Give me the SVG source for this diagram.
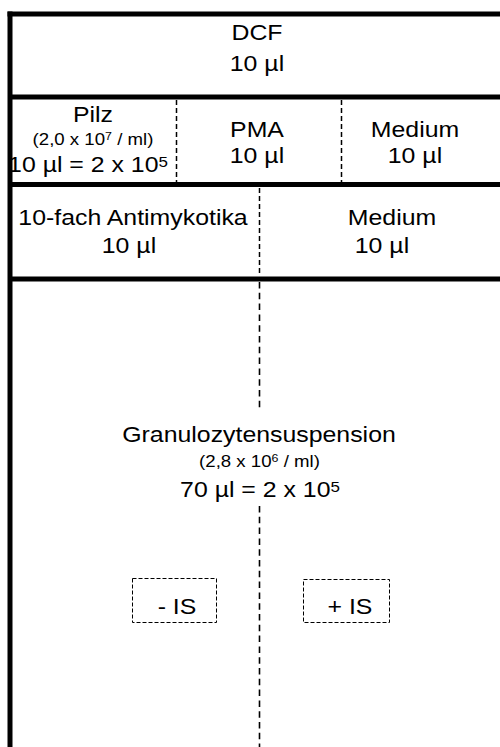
<svg xmlns="http://www.w3.org/2000/svg" width="500" height="747" viewBox="0 0 500 747">
<style>
.frame{stroke:#000;stroke-width:5;fill:none}
.dash{stroke:#000;stroke-width:1.5;stroke-dasharray:5 3;fill:none}
.dash2{stroke:#000;stroke-width:1.6;stroke-dasharray:6.5 4.3;fill:none}
.box{stroke:#000;stroke-width:1;stroke-dasharray:4 2;fill:none}
text{font-family:"Liberation Sans",Arial,sans-serif;fill:#000;text-anchor:middle}
.m{font-size:22px}
.s{font-size:16.5px}
.sup{font-size:15px}
.ssup{font-size:11px}
</style>
<rect width="500" height="747" fill="#fff"/>
<g id="connectors">
<line class="frame" x1="7.5" y1="14" x2="500" y2="14"/>
<line class="frame" x1="10" y1="11.5" x2="10" y2="747"/>
<line class="frame" x1="10" y1="97" x2="500" y2="97"/>
<line class="frame" x1="10" y1="184.5" x2="500" y2="184.5"/>
<line class="frame" x1="10" y1="279" x2="500" y2="279"/>
<line class="dash" x1="176.5" y1="100" x2="176.5" y2="182"/>
<line class="dash" x1="341.5" y1="100" x2="341.5" y2="182"/>
<line class="dash" x1="259.5" y1="188" x2="259.5" y2="276"/>
<line class="dash2" x1="259.5" y1="282" x2="259.5" y2="411"/>
<line class="dash2" x1="259.5" y1="506" x2="259.5" y2="747"/>
</g>
<g id="dcf">
<g transform="translate(257,0) scale(1.13,1)"><text class="m" x="0" y="40">DCF</text><text class="m" x="0" y="71">10 µl</text></g>
</g>
<g id="pilz">
<g transform="translate(93,0) scale(1.13,1)"><text class="m" x="0" y="122">Pilz</text></g>
<g transform="translate(93,0) scale(1.13,1)"><text class="s" x="0" y="145">(2,0 x 10<tspan class="ssup" dy="-5">7</tspan><tspan dy="5"> / ml)</tspan></text></g>
<g transform="translate(88,0) scale(1.13,1)"><text class="m" x="0" y="172">10 µl = 2 x 10<tspan class="sup" dy="-5">5</tspan></text></g>
</g>
<g id="pma">
<g transform="translate(257,0) scale(1.13,1)"><text class="m" x="0" y="137">PMA</text><text class="m" x="0" y="163">10 µl</text></g>
</g>
<g id="medium1">
<g transform="translate(415,0) scale(1.13,1)"><text class="m" x="0" y="137">Medium</text><text class="m" x="0" y="163">10 µl</text></g>
</g>
<g id="antimykotika">
<g transform="translate(133,0) scale(1.13,1)"><text class="m" x="0" y="225">10-fach Antimykotika</text></g>
<g transform="translate(129,0) scale(1.13,1)"><text class="m" x="0" y="253">10 µl</text></g>
</g>
<g id="medium2">
<g transform="translate(392,0) scale(1.13,1)"><text class="m" x="0" y="225">Medium</text></g>
<g transform="translate(382,0) scale(1.13,1)"><text class="m" x="0" y="253">10 µl</text></g>
</g>
<g id="granulozyten">
<g transform="translate(259,0) scale(1.13,1)"><text class="m" x="0" y="442">Granulozytensuspension</text></g>
<g transform="translate(259.5,0) scale(1.13,1)"><text class="s" x="0" y="467">(2,8 x 10<tspan class="ssup" dy="-5">6</tspan><tspan dy="5"> / ml)</tspan></text></g>
<g transform="translate(260,0) scale(1.13,1)"><text class="m" x="0" y="497">70 µl = 2 x 10<tspan class="sup" dy="-5">5</tspan></text></g>
</g>
<g id="minus-is">
<rect class="box" x="132.5" y="578.5" width="84" height="44"/>
<g transform="translate(177,0) scale(1.13,1)"><text class="m" x="0" y="614">- IS</text></g>
</g>
<g id="plus-is">
<rect class="box" x="303.5" y="579.5" width="86" height="43"/>
<g transform="translate(350,0) scale(1.13,1)"><text class="m" x="0" y="614">+ IS</text></g>
</g>
</svg>
